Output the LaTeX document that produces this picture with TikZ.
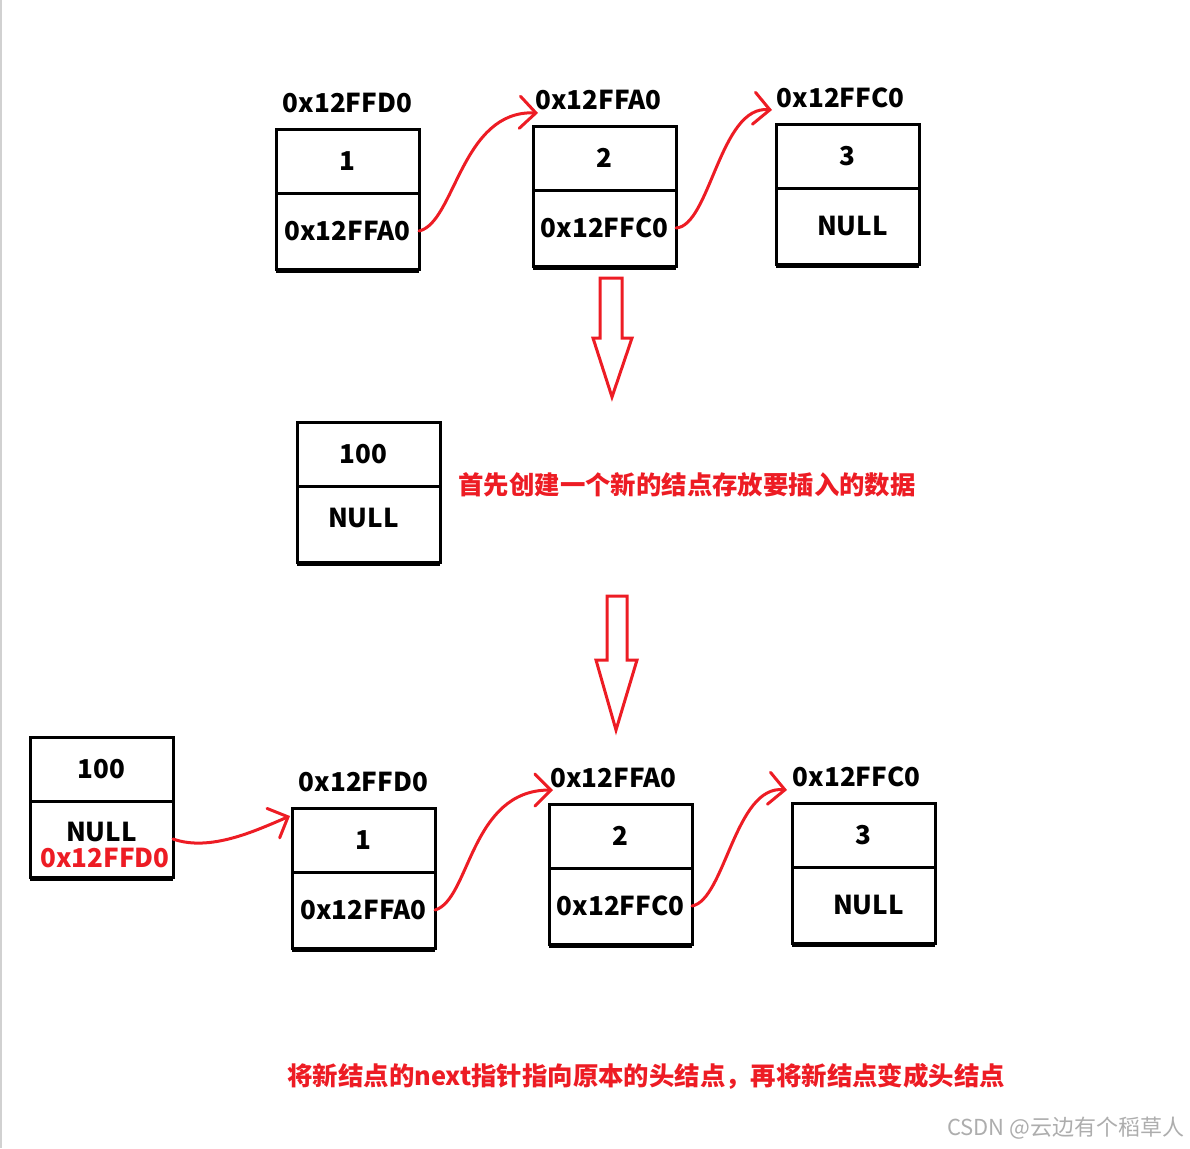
\documentclass[tikz,border=0pt]{standalone}
\usepackage{fontspec}
\setmainfont{Noto Sans CJK SC}
\newfontfamily\cjk{Noto Sans CJK SC}
\usetikzlibrary{positioning, arrows.meta}
\definecolor{penred}{RGB}{237,28,36}
\tikzstyle{valcell} = [rectangle, minimum width=71.5pt, minimum height=32pt, text centered, draw=black, line width=1.5pt, inner sep=0pt, outer sep=0pt, font=\cjk\bfseries\fontsize{13}{13}\selectfont]
\tikzstyle{ptrcell} = [valcell, minimum height=38pt, align=center]
\tikzstyle{addr} = [inner sep=1pt, font=\cjk\bfseries\fontsize{13}{13}\selectfont]
\tikzstyle{link} = [penred, line width=1.5pt, line cap=round, line join=round, -{Straight Barb[length=8pt,width=16pt,line cap=round]}]
\tikzstyle{hollow} = [penred, line width=1.5pt]
\tikzstyle{note} = [penred, anchor=west, inner sep=0pt, font=\cjk\bfseries\fontsize{12.7}{14}\selectfont]

\begin{document}
\begin{tikzpicture}[x=0.5pt, y=0.5pt]
		\useasboundingbox (0,0) rectangle (1190,-1148);
		\draw [black!18, line width=1pt] (1,0) -- (1,-1148);
		\node (a1) [valcell] at (347.5,-161) {1};
		\node (a1n) [ptrcell, below=0pt of a1] {0x12FFA0};
		\node (a1addr) [addr, above=7pt of a1] {0x12FFD0};
		\node (b1) [valcell] at (604.5,-158) {2};
		\node (b1n) [ptrcell, below=0pt of b1] {0x12FFC0};
		\node (b1addr) [addr, above=7pt of b1, xshift=-3pt] {0x12FFA0};
		\node (c1) [valcell] at (847.5,-156) {3};
		\node (c1n) [ptrcell, below=0pt of c1] {\hspace{5pt}NULL};
		\node (c1addr) [addr, above=7pt of c1, xshift=-3.5pt] {0x12FFC0};
		\draw [link] (a1n.east) .. controls +(36,8) and +(-77,3) .. ([shift={(2.5pt,6.5pt)}]b1.north west);
		\draw [link] (b1n.east) .. controls +(34,2) and +(-52,5) .. ([shift={(-2pt,7pt)}]c1.north west);
		\draw [hollow] (600,-278) -- (622,-278) -- (622,-338) -- (632,-338) -- (612,-397) -- (593,-338) -- (600,-338) -- cycle;
		\node (m1) [valcell] at (368.5,-454) {\hspace{-5pt}100};
		\node (m1n) [ptrcell, below=0pt of m1] {\hspace{-5pt}NULL\rule[-6pt]{0pt}{6pt}};
		\node (note1) [note] at (458,-485) {首先创建一个新的结点存放要插入的数据};
		\draw [hollow] (607,-596) -- (627,-596) -- (627,-660) -- (637,-660) -- (616,-730) -- (596,-660) -- (607,-660) -- cycle;
		\node (nw1) [valcell] at (101.5,-769) {100};
		\node (nw1n) [ptrcell, below=0pt of nw1] {\rule{0pt}{16pt}NULL\\\hspace{3.5pt}\textcolor{penred}{0x12FFD0}};
		\node (d1) [valcell] at (363.5,-840) {1};
		\node (d1n) [ptrcell, below=0pt of d1] {0x12FFA0};
		\node (d1addr) [addr, above=7pt of d1] {0x12FFD0};
		\node (e1) [valcell] at (620.5,-836) {2};
		\node (e1n) [ptrcell, below=0pt of e1] {0x12FFC0};
		\node (e1addr) [addr, above=7pt of e1, xshift=-3.5pt] {0x12FFA0};
		\node (f1) [valcell] at (863.5,-835) {3};
		\node (f1n) [ptrcell, below=0pt of f1] {\hspace{5pt}NULL};
		\node (f1addr) [addr, above=7pt of f1, xshift=-3.5pt] {0x12FFC0};
		\draw [link] (nw1n.east) .. controls +(37,-13) and +(-35,-15) .. ([shift={(-1pt,-4pt)}]d1.north west);
		\draw [link] (d1n.east) .. controls +(35,10) and +(-83,0) .. ([shift={(2pt,7pt)}]e1.north west);
		\draw [link] (e1n.east) .. controls +(33,6) and +(-52,5) .. ([shift={(-2.5pt,6.5pt)}]f1.north west);
		\foreach \n in {a1n, b1n, c1n, m1n, nw1n, d1n, e1n, f1n}
			\draw [line width=2.5pt] ([yshift=-0.5pt]\n.south west) -- ([yshift=-0.5pt]\n.south east);
		\node (note2) [note] at (287,-1076) {将新结点的next指针指向原本的头结点，再将新结点变成头结点};
		\node (mark) [anchor=east, inner sep=0pt, black!32, font=\cjk\fontsize{11}{12}\selectfont] at (1185,-1128) {CSDN @云边有个稻草人};
\end{tikzpicture}
\end{document}
